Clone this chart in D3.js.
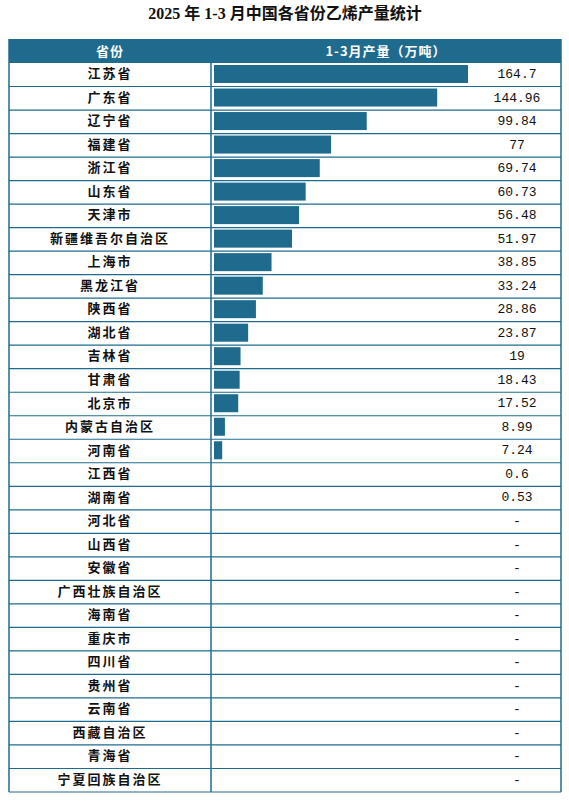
<!DOCTYPE html>
<html>
<head>
<meta charset="utf-8">
<script src="https://cdn.jsdelivr.net/npm/d3@7.9.0/dist/d3.min.js"></script>
<style>
  body { margin: 0; background: #fff; }
  svg { display: block; }
</style>
</head>
<body>
<svg id="chart" width="569" height="801"></svg>
<script>
const provinces = ["江苏省", "广东省", "辽宁省", "福建省", "浙江省", "山东省", "天津市",
  "新疆维吾尔自治区", "上海市", "黑龙江省", "陕西省", "湖北省", "吉林省", "甘肃省",
  "北京市", "内蒙古自治区", "河南省", "江西省", "湖南省", "河北省", "山西省", "安徽省",
  "广西壮族自治区", "海南省", "重庆市", "四川省", "贵州省", "云南省", "西藏自治区",
  "青海省", "宁夏回族自治区"];
const output = [164.7, 144.96, 99.84, 77, 69.74, 60.73, 56.48, 51.97, 38.85, 33.24,
  28.86, 23.87, 19, 18.43, 17.52, 8.99, 7.24, 0.6, 0.53,
  null, null, null, null, null, null, null, null, null, null, null, null];
const headers = ["省份", "1-3月产量（万吨）"];
const title = "2025 年 1-3 月中国各省份乙烯产量统计";

const blue = "#1f6b8e";
const svg = d3.select("#chart");

const tLeft = 9, tRight = 561, split = 211, tTop = 39, headH = 24, tBottom = 792;

// title
svg.append("text")
  .attr("x", 285).attr("y", 19)
  .attr("text-anchor", "middle")
  .attr("font-family", "'Liberation Serif', 'Noto Sans CJK SC', serif")
  .attr("font-weight", "bold")
  .attr("font-size", 16)
  .attr("fill", "#111")
  .text(title);

// header bar
svg.append("rect")
  .attr("x", tLeft).attr("y", tTop)
  .attr("width", tRight - tLeft).attr("height", headH)
  .attr("fill", blue);

svg.selectAll(".head")
  .data(headers)
  .join("text")
  .attr("x", (d, i) => i === 0 ? (tLeft + split) / 2 : (split + tRight) / 2)
  .attr("y", tTop + headH / 2 + 1)
  .attr("dominant-baseline", "middle")
  .attr("text-anchor", "middle")
  .attr("font-family", "'Noto Sans CJK SC', sans-serif")
  .attr("font-weight", "bold")
  .attr("font-size", 13)
  .attr("letter-spacing", 1)
  .attr("fill", "#fff")
  .text(d => d);

// scales
const y = d3.scaleBand()
  .domain(provinces)
  .range([tTop + headH, tBottom])
  .paddingInner(0).paddingOuter(0);

// the source's bars start a little above zero, tiny values get no bar
const x = d3.scaleLinear()
  .domain([2, d3.max(output)])
  .range([214, 468])
  .clamp(true);

const rows = provinces.map((p, i) => ({ name: p, value: output[i] }));

// row separators
svg.selectAll(".sep")
  .data(rows)
  .join("line")
  .attr("x1", tLeft).attr("x2", tRight)
  .attr("y1", d => y(d.name) + y.bandwidth())
  .attr("y2", d => y(d.name) + y.bandwidth())
  .attr("stroke", blue).attr("stroke-width", 1.2);

// outer border and column divider
svg.append("line")
  .attr("x1", tLeft).attr("x2", tLeft)
  .attr("y1", tTop).attr("y2", tBottom)
  .attr("stroke", blue).attr("stroke-width", 1.5);
svg.append("line")
  .attr("x1", tRight).attr("x2", tRight)
  .attr("y1", tTop).attr("y2", tBottom)
  .attr("stroke", blue).attr("stroke-width", 1.5);
svg.append("line")
  .attr("x1", split).attr("x2", split)
  .attr("y1", tTop + headH).attr("y2", tBottom)
  .attr("stroke", blue).attr("stroke-width", 1.5);

// bars
svg.selectAll(".bar")
  .data(rows.filter(d => d.value !== null && x(d.value) > x.range()[0]))
  .join("rect")
  .attr("x", x.range()[0])
  .attr("y", d => y(d.name) + 2)
  .attr("width", d => x(d.value) - x.range()[0])
  .attr("height", y.bandwidth() - 5.5)
  .attr("fill", blue);

// province names
svg.selectAll(".name")
  .data(rows)
  .join("text")
  .attr("x", (tLeft + split) / 2)
  .attr("y", d => y(d.name) + y.bandwidth() / 2)
  .attr("dominant-baseline", "middle")
  .attr("text-anchor", "middle")
  .attr("font-family", "'Noto Sans CJK SC', sans-serif")
  .attr("font-weight", "bold")
  .attr("font-size", 13)
  .attr("letter-spacing", 2)
  .attr("fill", "#111")
  .text(d => d.name);

// values
svg.selectAll(".val")
  .data(rows)
  .join("text")
  .attr("x", 517)
  .attr("y", d => y(d.name) + y.bandwidth() / 2)
  .attr("dominant-baseline", "middle")
  .attr("text-anchor", "middle")
  .attr("font-family", "'Liberation Mono', monospace")
  .attr("font-size", 13)
  .attr("fill", "#111")
  .text(d => d.value === null ? "-" : String(d.value));
</script>
</body>
</html>
